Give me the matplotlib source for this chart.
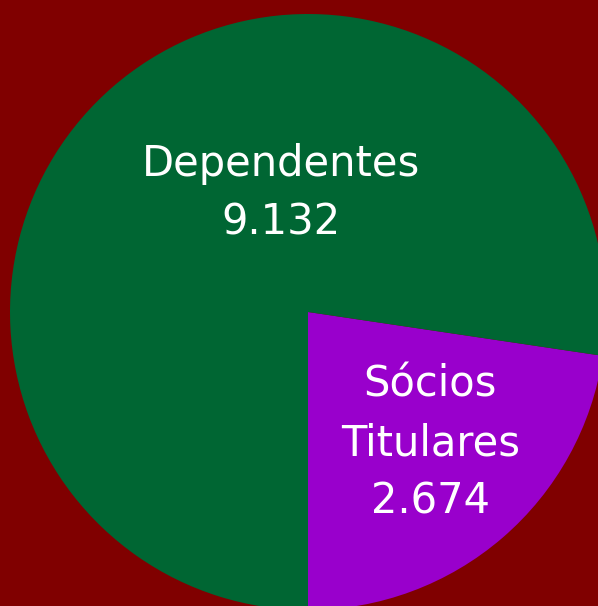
import matplotlib
matplotlib.use("Agg")
import matplotlib.pyplot as plt

# data
categories = ["Sócios\nTitulares", "Dependentes"]
values = [2674, 9132]
colors = ["#9900CC", "#006633"]
bg = "#800000"

def fmt(v):
    return f"{v:,}".replace(",", ".")

fig = plt.figure(figsize=(5.98, 6.06), dpi=100)
fig.patch.set_facecolor(bg)
ax = fig.add_axes([0, 0, 1, 1])
ax.set_facecolor(bg)

r_px = 298.0
cx, cy = 308.0, 312.0
ax.pie(values, colors=colors, startangle=-90, counterclock=True,
       radius=1, center=(0, 0), wedgeprops=dict(linewidth=0))
ax.set_xlim(-cx / r_px, (598 - cx) / r_px)
ax.set_ylim(-(606 - cy) / r_px, cy / r_px)
ax.set_aspect("auto")
ax.axis("off")

# label positions (fraction of radius)
label_pos = [(0.41, -0.44), (-0.09, 0.40)]
for cat, v, (x, y) in zip(categories, values, label_pos):
    ax.text(x, y, cat + "\n" + fmt(v), ha="center", va="center",
            color="white", fontsize=30, linespacing=1.5,
            family="DejaVu Sans")

fig.savefig("out.png", dpi=100, facecolor=bg)
